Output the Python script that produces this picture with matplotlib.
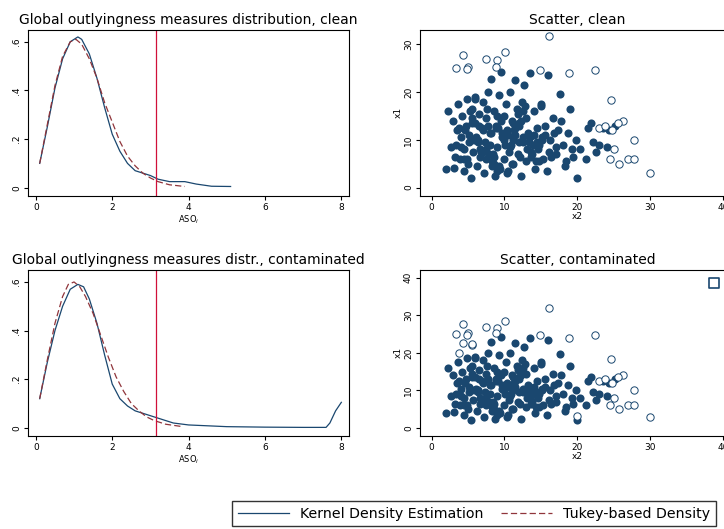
import matplotlib.pyplot as plt
import numpy as np
from matplotlib.lines import Line2D

navy = '#1a476f'
maroon = '#90353b'

# density curves, clean
kde_x = [0.1, 0.3, 0.5, 0.7, 0.9, 1.1, 1.2, 1.4, 1.6, 1.8, 2.0, 2.2, 2.4, 2.6, 2.8, 3.0, 3.2, 3.5, 3.9, 4.2, 4.6, 5.1]
kde_clean = [0.10, 0.25, 0.41, 0.53, 0.60, 0.62, 0.61, 0.55, 0.45, 0.33, 0.22, 0.15, 0.10, 0.07, 0.06, 0.05, 0.035, 0.025, 0.025, 0.015, 0.006, 0.005]
tuk_x = [0.1, 0.3, 0.5, 0.7, 0.9, 1.05, 1.2, 1.4, 1.6, 1.8, 2.0, 2.2, 2.4, 2.6, 2.8, 3.0, 3.2, 3.5, 3.9]
tuk_clean = [0.10, 0.26, 0.42, 0.54, 0.60, 0.61, 0.59, 0.53, 0.45, 0.35, 0.27, 0.19, 0.13, 0.09, 0.06, 0.04, 0.025, 0.012, 0.005]

# density curves, contaminated
kde2_x = [0.1, 0.3, 0.5, 0.7, 0.9, 1.1, 1.25, 1.4, 1.6, 1.8, 2.0, 2.2, 2.4, 2.6, 2.8, 3.0, 3.2, 3.6, 4.0, 5.0, 6.0, 7.0, 7.6, 7.7, 7.85, 8.0]
kde_cont = [0.12, 0.27, 0.40, 0.50, 0.57, 0.59, 0.58, 0.53, 0.43, 0.30, 0.18, 0.12, 0.09, 0.07, 0.06, 0.05, 0.04, 0.02, 0.012, 0.005, 0.003, 0.002, 0.002, 0.02, 0.07, 0.105]
tuk2_x = [0.1, 0.3, 0.5, 0.7, 0.85, 1.0, 1.15, 1.3, 1.5, 1.7, 1.9, 2.1, 2.3, 2.5, 2.7, 2.9, 3.1, 3.4, 3.8]
tuk_cont = [0.12, 0.28, 0.43, 0.54, 0.59, 0.60, 0.58, 0.54, 0.47, 0.38, 0.29, 0.21, 0.15, 0.10, 0.07, 0.045, 0.03, 0.015, 0.006]

cutoff = 3.15

# scatter: bulk of observations (x2, x1)
bulk_x2 = [2.0, 2.3, 2.6, 3.0, 3.1, 3.3, 3.5, 3.6, 3.9, 4.0, 4.2, 4.4, 4.5, 4.7, 4.9, 5.0, 5.2, 5.4, 5.5, 5.7,
           5.9, 6.0, 6.2, 6.4, 6.5, 6.7, 6.9, 7.0, 7.2, 7.3, 7.5, 7.7, 7.9, 8.0, 8.2, 8.3, 8.5, 8.7, 8.9, 9.0,
           9.2, 9.4, 9.5, 9.7, 9.9, 10.0, 10.2, 10.4, 10.5, 10.7, 10.9, 11.0, 11.2, 11.4, 11.5, 11.7, 11.9, 12.0, 12.2, 12.4,
           12.5, 12.7, 12.9, 13.0, 13.2, 13.5, 13.7, 14.0, 14.2, 14.5, 14.7, 15.0, 15.3, 15.5, 15.8, 16.0, 16.3, 16.6, 17.0, 17.3,
           17.6, 18.0, 18.3, 18.7, 19.0, 19.4, 19.8, 20.3, 21.2, 21.5, 21.8, 22.2, 22.6, 23.0, 23.5, 24.0, 24.4, 25.2,
           3.2, 4.1, 5.1, 6.1, 7.1, 8.1, 9.1, 10.1, 11.1, 12.1, 13.1, 14.1, 15.1, 16.1, 17.1, 4.6, 5.6, 6.6, 7.6, 8.6,
           9.6, 10.6, 11.6, 12.6, 13.6, 14.6, 15.6, 3.7, 4.8, 6.3, 7.8, 9.3, 10.8, 12.3, 13.8, 15.2, 16.8, 6.8, 8.8, 10.3,
           11.8, 13.3, 5.3, 7.4, 9.8, 12.8, 14.8, 5.8, 8.4, 11.3, 13.9, 16.4, 18.5, 20.0, 9.0, 10.0, 11.0, 12.0, 7.0, 8.0,
           5.5, 6.5, 7.5, 8.5, 9.5, 10.5, 11.5, 12.5, 13.5, 14.5, 4.5, 6.0, 9.0, 12.0, 15.0, 17.8, 19.2, 8.3, 11.2, 14.3]
bulk_x1 = [4.0, 16.0, 8.5, 14.0, 4.2, 9.0, 12.0, 17.5, 6.0, 10.5, 15.0, 3.5, 8.0, 13.0, 18.5, 5.0, 11.0, 2.0, 16.5, 7.5,
           13.5, 19.0, 4.5, 10.0, 15.5, 6.5, 12.5, 18.0, 3.0, 9.5, 14.5, 20.0, 7.0, 11.5, 22.8, 5.5, 16.0, 2.5, 13.0, 8.5,
           19.5, 4.0, 24.3, 10.5, 15.0, 6.0, 17.5, 12.0, 3.5, 20.0, 9.0, 14.0, 5.0, 22.5, 11.0, 16.5, 7.0, 13.5, 2.5, 18.0,
           9.5, 21.5, 5.5, 14.5, 11.5, 24.0, 7.5, 16.0, 4.0, 12.5, 9.0, 17.0, 6.0, 13.0, 3.5, 23.5, 10.0, 14.5, 7.0, 12.0,
           19.7, 9.0, 4.5, 11.5, 16.5, 6.5, 10.0, 8.0, 6.0, 12.5, 13.5, 9.5, 7.5, 9.0, 12.5, 8.5, 12.0, 13.0,
           6.5, 8.5, 9.5, 10.5, 7.5, 11.5, 12.5, 9.0, 10.0, 6.5, 8.0, 11.0, 10.5, 7.5, 8.5, 12.0, 14.5, 8.0, 16.5, 5.0,
           11.5, 7.5, 13.0, 10.5, 6.5, 8.0, 11.0, 12.5, 6.0, 9.5, 13.0, 4.5, 8.5, 14.0, 7.0, 10.0, 11.5, 7.5, 12.5, 3.0,
           15.5, 9.5, 16.0, 6.0, 11.0, 17.0, 5.5, 10.0, 7.0, 12.0, 9.0, 6.5, 5.5, 2.0, 15.0, 10.0, 5.0, 13.0, 12.0, 9.0,
           13.5, 13.0, 8.0, 6.5, 14.0, 11.0, 12.5, 16.0, 10.5, 9.5, 6.0, 18.5, 3.5, 9.5, 17.5, 14.0, 8.0, 4.5, 13.5, 5.5]

# outliers, clean
out_x2 = [3.3, 4.3, 5.0, 4.9, 7.4, 9.0, 8.9, 10.1, 14.9, 16.1, 18.8, 22.4, 24.6, 26.2, 27.8, 25.0, 24.5, 25.7, 27.0, 27.8, 30.0, 23.0, 23.8, 24.8, 25.6]
out_x1 = [25.0, 27.8, 25.3, 24.8, 27.0, 26.7, 25.3, 28.5, 24.7, 31.8, 24.0, 24.7, 18.3, 14.0, 10.0, 8.0, 6.0, 5.0, 6.0, 6.0, 3.0, 12.5, 13.0, 12.0, 13.5]
# extra outliers, contaminated
extra_x2 = [4.3, 5.5, 5.6, 3.8, 19.9]
extra_x1 = [22.5, 22.0, 22.3, 20.0, 3.1]
sq_x2 = [38.7]
sq_x1 = [38.5]

fig = plt.figure(figsize=(7.24, 5.29), dpi=100)
fs = 6.5


def dens_panel(rect, title, kx, ky, tx, ty):
    ax = fig.add_axes(rect)
    ax.plot(kx, ky, color=navy, lw=0.9)
    ax.plot(tx, ty, color=maroon, lw=0.9, dashes=(5, 2.5))
    ax.axvline(cutoff, color='#d0103a', lw=0.9)
    ax.set_xlim(-0.2, 8.2)
    ax.set_ylim(-0.033, 0.65)
    ax.set_xticks([0, 2, 4, 6, 8])
    ax.set_yticks([0, 0.2, 0.4, 0.6])
    ax.set_yticklabels(['0', '.2', '.4', '.6'], rotation=90, va='center')
    ax.tick_params(labelsize=fs, length=3, pad=2)
    ax.set_xlabel('ASO$_i$', fontsize=6, labelpad=1)
    ax.set_title(title, fontsize=10, pad=4)
    return ax


def scat_panel(rect, title, ylim, yticks, ox, oy):
    ax = fig.add_axes(rect)
    ax.scatter(bulk_x2, bulk_x1, s=34, color=navy, linewidths=0)
    ax.scatter(ox, oy, s=28, facecolors='white', edgecolors=navy, linewidths=0.7)
    ax.set_xlim(-1.6, 41.6)
    ax.set_ylim(*ylim)
    ax.set_xticks([0, 10, 20, 30, 40])
    ax.set_yticks(yticks)
    ax.set_yticklabels([str(t) for t in yticks], rotation=90, va='center')
    ax.tick_params(labelsize=fs, length=3, pad=2)
    ax.set_xlabel('x2', fontsize=fs, labelpad=0)
    ax.set_ylabel('x1', fontsize=fs, labelpad=1)
    ax.set_title(title, fontsize=10, pad=4)
    return ax


dens_panel([0.039, 0.63, 0.443, 0.314], 'Global outlyingness measures distribution, clean',
           kde_x, kde_clean, tuk_x, tuk_clean)
dens_panel([0.039, 0.176, 0.443, 0.314], 'Global outlyingness measures distr., contaminated',
           kde2_x, kde_cont, tuk2_x, tuk_cont)
scat_panel([0.58, 0.63, 0.435, 0.314], 'Scatter, clean', (-1.7, 33.1), [0, 10, 20, 30], out_x2, out_x1)
ax4 = scat_panel([0.58, 0.176, 0.435, 0.314], 'Scatter, contaminated', (-2.1, 42.1), [0, 10, 20, 30, 40],
                 out_x2 + extra_x2, out_x1 + extra_x1)
ax4.scatter(sq_x2, sq_x1, s=60, marker='s', facecolors='white', edgecolors=navy, linewidths=1.2, clip_on=False)

handles = [Line2D([], [], color=navy, lw=0.9),
           Line2D([], [], color=maroon, lw=0.9, dashes=(5, 2.5))]
fig.legend(handles, ['Kernel Density Estimation', 'Tukey-based Density'], loc='center',
           bbox_to_anchor=(0.655, 0.029), ncol=2, fontsize=10.2, frameon=True, fancybox=False,
           edgecolor='black', handlelength=3.6, columnspacing=1.2, borderpad=0.4, handletextpad=0.8,
           borderaxespad=0)

fig.savefig('out.png', dpi=100)
